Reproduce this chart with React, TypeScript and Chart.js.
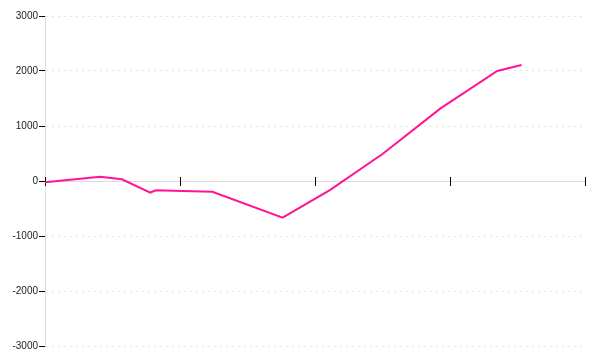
import React, { useEffect, useRef } from "react";
import { Chart, registerables } from "chart.js";

Chart.register(...registerables);

const xValues = [0, 0.41, 0.57, 0.78, 0.82, 1.02, 1.24, 1.76, 2.11, 2.5, 2.93, 3.35, 3.53];
const yValues = [-25, 75, 30, -210, -170, -180, -195, -665, -165, 490, 1320, 2000, 2110];
const yTickMin = -3000;
const yTickMax = 3000;
const yTickStep = 1000;
const xTickMin = 0;
const xTickMax = 4;

const xTickPlugin = {
  id: "xCenterTicks",
  beforeDatasetsDraw(chart: any) {
    const xs = chart.scales.x;
    const ys = chart.scales.y;
    const ctx = chart.ctx;
    const y0 = Math.round(ys.getPixelForValue(0)) + 0.5;
    ctx.save();
    ctx.strokeStyle = "#000";
    ctx.lineWidth = 1;
    xs.ticks.forEach((t: any) => {
      const px = Math.round(xs.getPixelForValue(t.value)) + 0.5;
      ctx.beginPath();
      ctx.moveTo(px, y0 - 4.5);
      ctx.lineTo(px, y0 + 4.5);
      ctx.stroke();
    });
    ctx.restore();
  },
};

export default function App() {
  const ref = useRef<HTMLCanvasElement | null>(null);
  useEffect(() => {
    if (!ref.current) return;
    const chart = new Chart(ref.current, {
      type: "line",
      data: {
        datasets: [
          {
            data: xValues.map((x, i) => ({ x, y: yValues[i] })),
            borderColor: "#ff1493",
            borderWidth: 2,
            pointRadius: 0,
            tension: 0,
            fill: false,
          },
        ],
      },
      options: {
        animation: false,
        responsive: false,
        layout: { padding: { top: 16, right: 15, bottom: 14, left: 0 } },
        plugins: { legend: { display: false }, tooltip: { enabled: false } },
        scales: {
          x: {
            type: "linear",
            position: { y: 0 } as any,
            min: xTickMin,
            max: xTickMax,
            ticks: { display: false, stepSize: 1 },
            grid: { display: false },
            border: { display: true, color: "#dddddd", width: 1 },
          },
          y: {
            type: "linear",
            min: yTickMin,
            max: yTickMax,
            afterFit: (scale: any) => {
              scale.width = 45;
            },
            ticks: {
              stepSize: yTickStep,
              padding: 1,
              color: "#222",
              font: { family: "Liberation Sans", size: 10 },
              callback: (v: any) => String(v),
            },
            grid: {
              color: (c: any) => (c.tick && c.tick.value === 0 ? "rgba(0,0,0,0)" : "#e3e3e3"),
              tickColor: "#000",
              tickLength: 6,
            },
            border: { display: true, color: "#dddddd", width: 1, dash: [2, 4] },
          },
        },
      },
      plugins: [xTickPlugin],
    });
    return () => chart.destroy();
  }, []);
  return (
    <div style={{ position: "absolute", left: 0, top: 0, width: 600, height: 360, background: "#fff" }}>
      <canvas ref={ref} width={600} height={360} />
    </div>
  );
}
